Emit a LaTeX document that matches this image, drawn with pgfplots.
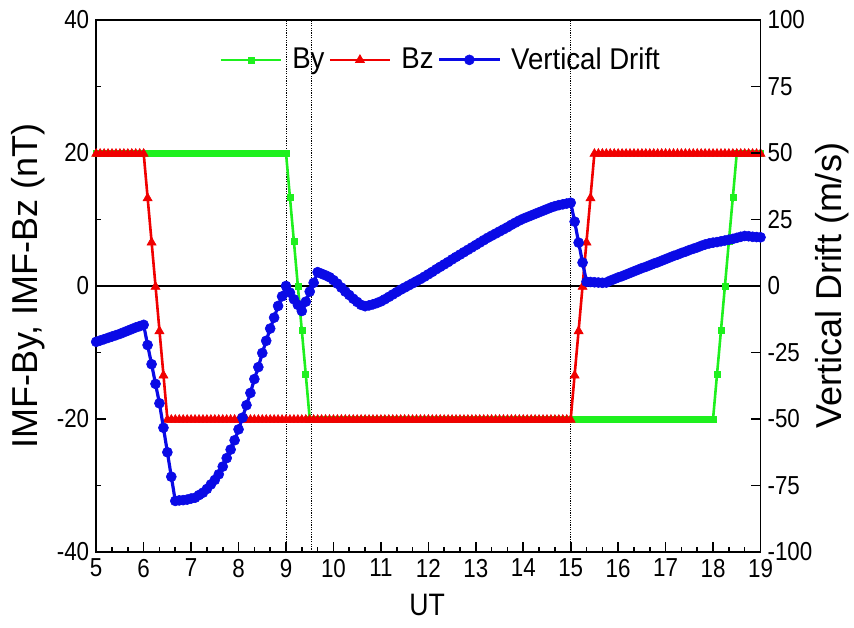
\documentclass[border=0pt]{standalone}
\usepackage{pgfplots}
\pgfplotsset{compat=1.18}
\usepackage{pgfplotstable}
\usepackage{fontspec}
\setmainfont{Liberation Sans}
\newfontfamily\tallfont[FakeStretch=0.86]{Liberation Sans}
\newfontfamily\legfont[FakeStretch=0.92]{Liberation Sans}
\definecolor{cBy}{RGB}{30,240,30}
\definecolor{cBz}{RGB}{240,0,0}
\definecolor{cVD}{RGB}{10,10,230}

\pgfplotstableread{
t By Bz V
5.000 20 20 -21.0
5.083 20 20 -20.5
5.167 20 20 -20.0
5.250 20 20 -19.5
5.333 20 20 -19.0
5.417 20 20 -18.5
5.500 20 20 -18.0
5.583 20 20 -17.4
5.667 20 20 -16.8
5.750 20 20 -16.2
5.833 20 20 -15.6
5.917 20 20 -15.1
6.000 20 20 -14.6
6.083 20 13.33 -22.2
6.167 20 6.67 -29.4
6.250 20 0 -36.8
6.333 20 -6.67 -44.1
6.417 20 -13.33 -53.3
6.500 20 -20 -62.5
6.583 20 -20 -71.7
6.667 20 -20 -80.8
6.750 20 -20 -80.6
6.833 20 -20 -80.5
6.917 20 -20 -80.3
7.000 20 -20 -79.9
7.083 20 -20 -79.6
7.167 20 -20 -78.6
7.250 20 -20 -77.7
7.333 20 -20 -76.3
7.417 20 -20 -74.6
7.500 20 -20 -72.9
7.583 20 -20 -70.8
7.667 20 -20 -67.9
7.750 20 -20 -64.7
7.833 20 -20 -61.5
7.917 20 -20 -58.0
8.000 20 -20 -53.9
8.083 20 -20 -49.5
8.167 20 -20 -44.8
8.250 20 -20 -40.2
8.333 20 -20 -35.0
8.417 20 -20 -30.5
8.500 20 -20 -25.2
8.583 20 -20 -20.6
8.667 20 -20 -16.0
8.750 20 -20 -11.9
8.833 20 -20 -7.5
8.917 20 -20 -3.9
9.000 20 -20 0.0
9.083 13.33 -20 -2.5
9.167 6.67 -20 -5.0
9.250 0 -20 -7.1
9.333 -6.67 -20 -9.4
9.417 -13.33 -20 -5.9
9.500 -20 -20 -2.1
9.583 -20 -20 1.2
9.667 -20 -20 5.2
9.750 -20 -20 4.6
9.833 -20 -20 4.0
9.917 -20 -20 3.3
10.000 -20 -20 2.2
10.083 -20 -20 0.9
10.167 -20 -20 -0.6
10.250 -20 -20 -2.1
10.333 -20 -20 -3.4
10.417 -20 -20 -4.8
10.500 -20 -20 -6.0
10.583 -20 -20 -7.1
10.667 -20 -20 -7.6
10.750 -20 -20 -7.3
10.833 -20 -20 -6.9
10.917 -20 -20 -6.4
11.000 -20 -20 -5.8
11.083 -20 -20 -5.0
11.167 -20 -20 -4.1
11.250 -20 -20 -3.2
11.333 -20 -20 -2.3
11.417 -20 -20 -1.4
11.500 -20 -20 -0.6
11.583 -20 -20 0.2
11.667 -20 -20 1.0
11.750 -20 -20 1.8
11.833 -20 -20 2.6
11.917 -20 -20 3.5
12.000 -20 -20 4.4
12.083 -20 -20 5.3
12.167 -20 -20 6.3
12.250 -20 -20 7.2
12.333 -20 -20 8.1
12.417 -20 -20 9.0
12.500 -20 -20 10.0
12.583 -20 -20 10.9
12.667 -20 -20 11.8
12.750 -20 -20 12.7
12.833 -20 -20 13.6
12.917 -20 -20 14.5
13.000 -20 -20 15.4
13.083 -20 -20 16.3
13.167 -20 -20 17.2
13.250 -20 -20 18.1
13.333 -20 -20 18.9
13.417 -20 -20 19.7
13.500 -20 -20 20.5
13.583 -20 -20 21.3
13.667 -20 -20 22.1
13.750 -20 -20 23.0
13.833 -20 -20 23.8
13.917 -20 -20 24.6
14.000 -20 -20 25.3
14.083 -20 -20 25.9
14.167 -20 -20 26.5
14.250 -20 -20 27.1
14.333 -20 -20 27.7
14.417 -20 -20 28.3
14.500 -20 -20 28.9
14.583 -20 -20 29.5
14.667 -20 -20 30.0
14.750 -20 -20 30.4
14.833 -20 -20 30.7
14.917 -20 -20 31.0
15.000 -20 -20 31.3
15.083 -20 -13.33 24.2
15.167 -20 -6.67 16.3
15.250 -20 0 8.8
15.333 -20 6.67 1.6
15.417 -20 13.33 1.5
15.500 -20 20 1.4
15.583 -20 20 1.3
15.667 -20 20 1.2
15.750 -20 20 1.3
15.833 -20 20 2.0
15.917 -20 20 2.6
16.000 -20 20 3.2
16.083 -20 20 3.7
16.167 -20 20 4.3
16.250 -20 20 4.9
16.333 -20 20 5.5
16.417 -20 20 6.1
16.500 -20 20 6.7
16.583 -20 20 7.2
16.667 -20 20 7.8
16.750 -20 20 8.4
16.833 -20 20 8.9
16.917 -20 20 9.5
17.000 -20 20 10.1
17.083 -20 20 10.7
17.167 -20 20 11.3
17.250 -20 20 11.8
17.333 -20 20 12.4
17.417 -20 20 12.9
17.500 -20 20 13.5
17.583 -20 20 14.0
17.667 -20 20 14.5
17.750 -20 20 15.1
17.833 -20 20 15.6
17.917 -20 20 16.0
18.000 -20 20 16.3
18.083 -13.33 20 16.5
18.167 -6.67 20 16.8
18.250 0 20 17.1
18.333 6.67 20 17.4
18.417 13.33 20 17.7
18.500 20 20 18.1
18.583 20 20 18.5
18.667 20 20 18.8
18.750 20 20 18.7
18.833 20 20 18.5
18.917 20 20 18.4
19.000 20 20 18.3
}\data

\begin{document}
\begin{tikzpicture}
\pgfplotsset{
  common/.style={
    scale only axis, width=332.15pt, height=266pt,
    xmin=5, xmax=19,
    tick align=inside,
    major tick length=5pt, minor tick length=2.5pt,
    every tick/.style={black, line width=0.8pt},
    axis line style={line width=0.8pt},
    tick label style={font=\tallfont\fontsize{13}{15}\selectfont},
    /pgf/number format/assume math mode=true,
  },
  legimg/.style={legend image code/.code={\draw[mark repeat=2,mark phase=2] plot coordinates {(0cm,0cm) (0.53cm,0cm) (1.06cm,0cm)};}},
}
\begin{axis}[common, name=ax,
  ymin=-40, ymax=40,
  xtick={5,6,...,19}, minor x tick num=2,
  ytick={-40,-20,...,40}, minor ytick={-30,-10,10,30},
  xtick pos=bottom, ytick pos=left,
  xlabel={UT}, ylabel={IMF-By, IMF-Bz (nT)},
  xlabel style={font=\tallfont\fontsize{15.5}{17}\selectfont, at={(axis description cs:0.498,-0.0996)}, anchor=center},
  ylabel style={font=\fontsize{18}{20}\selectfont, at={(axis description cs:-0.1024,0.5)}, anchor=center},
]
\addplot[black, line width=1pt, forget plot] coordinates {(5,0) (19,0)};
\addplot[black, line width=0.4pt, dash pattern=on 0.6pt off 0.6pt, forget plot] coordinates {(9,-40) (9,40)};
\addplot[black, line width=0.4pt, dash pattern=on 0.6pt off 0.6pt, forget plot] coordinates {(9.53,-40) (9.53,40)};
\addplot[black, line width=0.4pt, dash pattern=on 0.6pt off 0.6pt, forget plot] coordinates {(15,-40) (15,40)};
\addplot[cBy, line width=1.3pt, mark=square*, mark size=1.5pt, mark options={solid, line width=0.3pt}] table[x=t,y=By]{\data};
\addplot[cBz, line width=1.3pt, mark=triangle*, mark size=2.6pt, mark options={solid, line width=0.3pt, yshift=-0.4pt}] table[x=t,y=Bz]{\data};
\end{axis}
\begin{axis}[common,
  ymin=-100, ymax=100, ytick={-100,-75,...,100},
  hide x axis, axis y line*=right, tick align=inside,
  ylabel={Vertical Drift (m/s)},
  ylabel style={font=\fontsize{18}{20}\selectfont, at={(axis description cs:1.108,0.5)}, anchor=center},
  legend columns=-1,
  legend style={at={(axis description cs:0.52,0.925)}, anchor=center, draw=none, fill=none,
    font=\legfont\fontsize{15}{17}\selectfont, /tikz/every odd column/.append style={column sep=3pt}},
]
\addlegendimage{cBy, line width=1.3pt, mark=square*, mark size=1.5pt, mark options={solid, line width=0.3pt}, legimg}
\addlegendentry{By}
\addlegendimage{cBz, line width=1.3pt, mark=triangle*, mark size=2.6pt, mark options={solid, line width=0.3pt}, legimg}
\addlegendentry{Bz}
\addplot[cVD, line width=1.6pt, mark=*, mark size=2.5pt, mark options={solid, line width=0.3pt}, legimg] table[x=t,y=V]{\data};
\addlegendentry{Vertical Drift}
\end{axis}
\pgfresetboundingbox
\path[use as bounding box] ([xshift=-48.1pt,yshift=-38pt]ax.south west) rectangle ([xshift=46.75pt,yshift=10pt]ax.north east);
\end{tikzpicture}
\end{document}
